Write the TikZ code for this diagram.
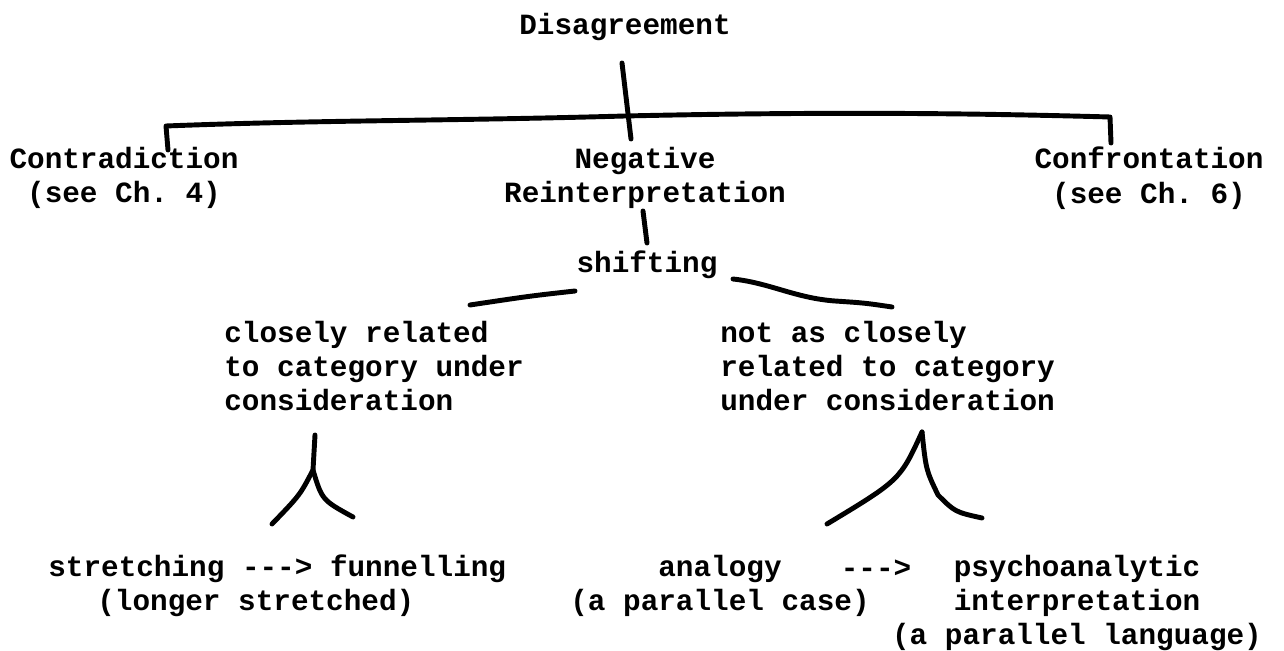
\documentclass[tikz,border=0pt]{standalone}
\usepackage{fontspec}
\setmonofont{Liberation Mono}
\begin{document}
\begin{tikzpicture}[
  x=0.02cm, y=-0.02cm,
  word/.style = {font=\ttfamily\bfseries\fontsize{16.7}{19.6}\selectfont, inner sep=0pt},
  pen/.style = {line width=2.8pt, line cap=round, line join=round},
  ]
  \useasboundingbox (0,0) rectangle (1284,651);
  % top of the tree
  \node[word] (dis) at (625,27) {Disagreement};
  \node[word, align=center] (contra) at (124,178) {Contradiction\\(see Ch. 4)};
  \node[word, align=center] (neg) at (645,178) {Negative\\Reinterpretation};
  \node[word, align=center] (confr) at (1149,178) {Confrontation\\(see Ch. 6)};
  \node[word] (shift) at (647,265) {shifting};
  % the two kinds of shifting
  \node[word, align=left, anchor=west] (close) at (224,366) {closely related\\to category under\\consideration};
  \node[word, align=left, anchor=west] (far) at (720,366) {not as closely\\related to category\\under consideration};
  % bottom row
  \node[word, anchor=west] (stretch) at (48,569) {stretching ---> funnelling};
  \node[word, anchor=west] (longer) at (97,603) {(longer stretched)};
  \node[word, align=center] (analogy) at (720,586) {analogy\\(a parallel case)};
  \node[word] (arrow) at (876,569) {--->};
  \node[word, align=center] (psycho) at (1077,603) {psychoanalytic\\interpretation\\(a parallel language)};

  % hand drawn links
  \coordinate (stemtop) at (622,63);
  \coordinate (stembot) at (631,139);
  \coordinate (brleft) at (168,150);
  \coordinate (brright) at (1111,143);
  \coordinate (shtop) at (643,211);
  \coordinate (shbot) at (647,243);
  \draw[pen] (stemtop) -- (stembot);
  \draw[pen] (brleft) -- (166,126) .. controls (320,120) and (450,121) .. (625,116)
    .. controls (850,111) and (1000,114) .. (1110,117) -- (brright);
  \draw[pen] (shtop) -- (shbot);
  \draw[pen] (575,291) .. controls (530,296) .. (470,305);
  \draw[pen] (733,279) .. controls (770,283) and (795,298) .. (835,301)
    .. controls (865,303) .. (892,307);
  % left fork
  \coordinate (lapex) at (315,435);
  \coordinate (lsplit) at (313,470);
  \draw[pen] (lapex) -- (lsplit) .. controls (300,495) .. (272,524);
  \draw[pen] (lsplit) .. controls (322,500) .. (353,517);
  % right fork
  \coordinate (rapex) at (922,432);
  \coordinate (rsplit) at (938,495);
  \draw[pen] (rapex) .. controls (900,480) .. (827,524);
  \draw[pen] (rapex) .. controls (926,470) .. (rsplit) .. controls (955,512) .. (982,518);
\end{tikzpicture}
\end{document}
